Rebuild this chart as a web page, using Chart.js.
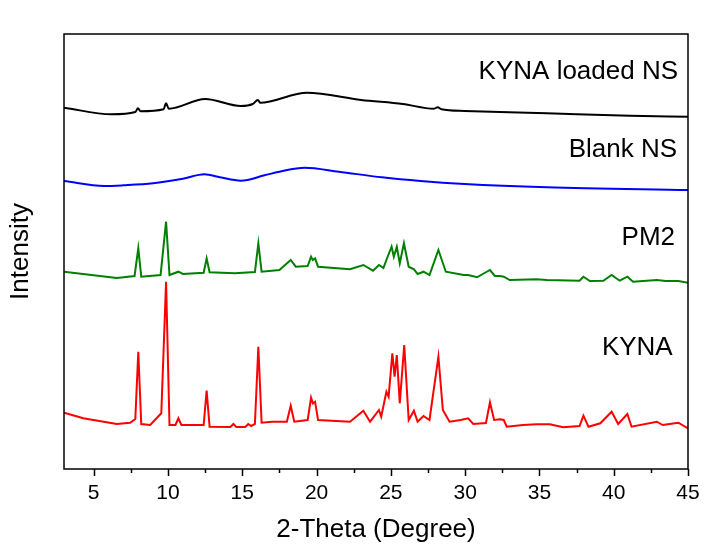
<!DOCTYPE html>
<html>
<head>
<meta charset="utf-8">
<script src="https://cdn.jsdelivr.net/npm/chart.js@4.4.1/dist/chart.umd.min.js"></script>
<style>
  html, body { margin: 0; padding: 0; background: #fff; }
  #wrap { width: 704px; height: 545px; }
</style>
</head>
<body>
<div id="wrap"><canvas id="chart-xrd" width="704" height="545"></canvas></div>
<script>
// XRD patterns, stacked with vertical offsets (arbitrary intensity units)
const FONT = '"Liberation Sans", Arial, sans-serif';

const X_TICKS = [5, 10, 15, 20, 25, 30, 35, 40, 45];
const X_MINOR = [7.5, 12.5, 17.5, 22.5, 27.5, 32.5, 37.5, 42.5];

// [2-theta, intensity]
const KYNA = [
  [3.0, 56.3], [4.3, 50.7], [6.55, 45], [7.45, 46.3], [7.8, 50], [8.0, 117.3], [8.2, 45],
  [8.8, 44], [9.55, 55.7], [9.87, 187.3], [10.1, 44], [10.5, 44], [10.7, 50.7], [10.9, 44],
  [12.4, 44], [12.6, 78.3], [12.8, 42.3], [14.2, 42], [14.4, 45], [14.6, 42], [15.2, 42],
  [15.4, 45], [15.6, 43], [15.85, 45], [16.08, 122.3], [16.3, 46.3], [17.0, 47.3], [18.0, 47.3],
  [18.26, 63.3], [18.5, 47.3], [19.4, 49], [19.63, 71.3], [19.75, 65.7], [19.9, 67.3], [20.1, 49],
  [22.25, 47.3], [23.15, 58.3], [23.6, 47.3], [24.2, 59], [24.35, 52.3], [24.7, 77.3], [24.85, 72.3],
  [25.1, 115.7], [25.25, 92.3], [25.4, 114], [25.6, 65.7], [25.9, 124], [26.2, 49], [26.55, 58.3],
  [26.8, 47.3], [27.2, 53], [27.6, 49], [28.2, 112.3], [28.5, 59], [28.95, 47.3], [29.7, 49],
  [30.2, 50.7], [30.55, 45], [31.4, 46], [31.67, 66.7], [31.95, 49], [32.35, 49.7], [32.6, 49],
  [32.8, 42.3], [33.9, 44], [34.8, 44.7], [35.7, 44.7], [36.6, 41.7], [37.7, 43], [37.96, 53.3],
  [38.3, 42.3], [39.1, 45.7], [39.86, 57.3], [40.3, 45], [40.92, 55], [41.2, 42.3], [42.9, 47.3],
  [43.3, 44], [44.35, 46.3], [45, 40.7]
];

const PM2 = [
  [3.0, 197.3], [6.55, 191], [7.75, 193], [8.0, 220.7], [8.2, 192.3], [9.5, 194], [9.87, 247.3],
  [10.1, 194], [10.7, 197.3], [11.0, 195], [12.4, 196.3], [12.6, 210.7], [12.8, 196.7], [14.5, 195.7],
  [15.85, 197], [16.08, 225.7], [16.3, 197.3], [17.5, 199], [18.26, 209], [18.6, 202.3], [19.4, 203],
  [19.63, 212.3], [19.75, 209], [19.9, 210.7], [20.1, 202.3], [22.25, 199.7], [23.15, 204], [23.8, 198.3],
  [24.2, 204], [24.5, 201], [24.7, 209], [25.05, 222.3], [25.2, 212.3], [25.4, 222.3], [25.6, 205.7],
  [25.88, 225.7], [26.2, 202.3], [26.56, 199.7], [26.8, 195], [27.2, 197.3], [27.6, 194], [28.2, 219],
  [28.7, 197.3], [29.9, 194], [30.2, 194], [30.8, 191.7], [31.67, 199], [32.0, 193], [32.35, 193],
  [32.6, 192.3], [33.0, 189], [34.8, 189.7], [35.5, 189], [37.7, 188.3], [37.96, 192.3], [38.4, 188],
  [39.3, 188.3], [39.86, 194], [40.4, 188.3], [40.92, 192.3], [41.3, 187.3], [42.9, 189], [43.5, 188],
  [44.35, 188], [45, 186.3]
];

const BLANK_NS = [
  [3.0, 288], [5.7, 283], [7.0, 283.7], [9.0, 285.7], [11.0, 290.3], [12.45, 294.7], [13.5, 291.7],
  [14.9, 288.3], [16.5, 293.7], [17.5, 297.3], [19.2, 301.3], [21.5, 297.3], [24.4, 291.7], [27.0, 288],
  [29.96, 285], [35.5, 281.7], [45, 279]
];

const LOADED_NS = [
  [3.0, 361.3], [6.2, 354.7], [7.8, 357], [7.98, 360.7], [8.15, 357.7], [9.7, 359.7], [9.87, 365.7],
  [10.05, 360.3], [12.5, 370], [14.9, 363], [15.7, 365], [16.05, 369], [16.2, 366.3],
  [19.35, 376.3], [23.0, 369], [25.8, 365], [27.9, 360.3], [28.15, 361.7], [28.4, 359.7],
  [29.96, 358], [35.5, 355.7], [41.1, 353.3], [45, 352.3]
];

const SERIES = [
  { name: 'KYNA', data: KYNA, color: '#ff0000', smooth: false, labelAt: [43.97, 114] },
  { name: 'PM2', data: PM2, color: '#008000', smooth: false, labelAt: [44.13, 224] },
  { name: 'Blank NS', data: BLANK_NS, color: '#0000ff', smooth: true, labelAt: [44.26, 311.7] },
  { name: 'KYNA loaded NS', data: LOADED_NS, color: '#000000', smooth: true, labelAt: [44.33, 389.7] },
];

// box frame, bottom tick marks (major + minor) and the series names
const framePlugin = {
  id: 'frame',
  afterDraw(chart) {
    const { ctx, chartArea: a, scales: { x, y } } = chart;
    ctx.save();
    ctx.strokeStyle = '#000';
    ctx.lineWidth = 1.5;
    ctx.strokeRect(a.left, a.top, a.right - a.left, a.bottom - a.top);

    const tick = (v, len) => {
      const px = Math.round(x.getPixelForValue(v)) + 0.5;
      ctx.beginPath();
      ctx.moveTo(px, a.bottom);
      ctx.lineTo(px, a.bottom + len);
      ctx.stroke();
    };
    X_TICKS.forEach(v => tick(v, 7));
    X_MINOR.forEach(v => tick(v, 4));

    ctx.fillStyle = '#000';
    ctx.font = '26px ' + FONT;
    ctx.textAlign = 'right';
    ctx.textBaseline = 'alphabetic';
    for (const s of SERIES) {
      ctx.fillText(s.name, x.getPixelForValue(s.labelAt[0]), y.getPixelForValue(s.labelAt[1]));
    }
    ctx.restore();
  }
};

new Chart(document.getElementById('chart-xrd'), {
  type: 'line',
  data: {
    datasets: SERIES.map(s => ({
      label: s.name,
      data: s.data.map(([x, y]) => ({ x, y })),
      borderColor: s.color,
      borderWidth: 2,
      pointRadius: 0,
      fill: false,
      tension: 0,
      cubicInterpolationMode: s.smooth ? 'monotone' : 'default',
    }))
  },
  options: {
    responsive: false,
    animation: false,
    devicePixelRatio: 1,
    layout: { padding: { left: 0, top: 34, right: 16, bottom: 0 } },
    plugins: {
      legend: { display: false },
      tooltip: { enabled: false },
    },
    scales: {
      x: {
        type: 'linear',
        min: 3,
        max: 45,
        afterBuildTicks(scale) {
          scale.ticks = X_TICKS.map(v => ({ value: v }));
        },
        afterFit(scale) { scale.height = 76; },
        // tick marks themselves are drawn by framePlugin
        grid: { display: true, drawOnChartArea: false, tickLength: 9, tickColor: 'rgba(0,0,0,0)' },
        border: { display: false },
        ticks: {
          color: '#000',
          padding: 3,
          maxRotation: 0,
          font: { family: FONT, size: 21 },
        },
        title: {
          display: true,
          text: '2-Theta (Degree)',
          color: '#000',
          padding: { top: 0, bottom: 0 },
          font: { family: FONT, size: 26 },
        },
      },
      y: {
        type: 'linear',
        min: 0,
        max: 435,
        afterFit(scale) { scale.width = 64; },
        grid: { display: false },
        border: { display: false },
        ticks: { display: false },
        title: {
          display: true,
          text: 'Intensity',
          color: '#000',
          padding: { top: 5, bottom: 0 },
          font: { family: FONT, size: 26 },
        },
      },
    },
  },
  plugins: [framePlugin],
});
</script>
</body>
</html>
